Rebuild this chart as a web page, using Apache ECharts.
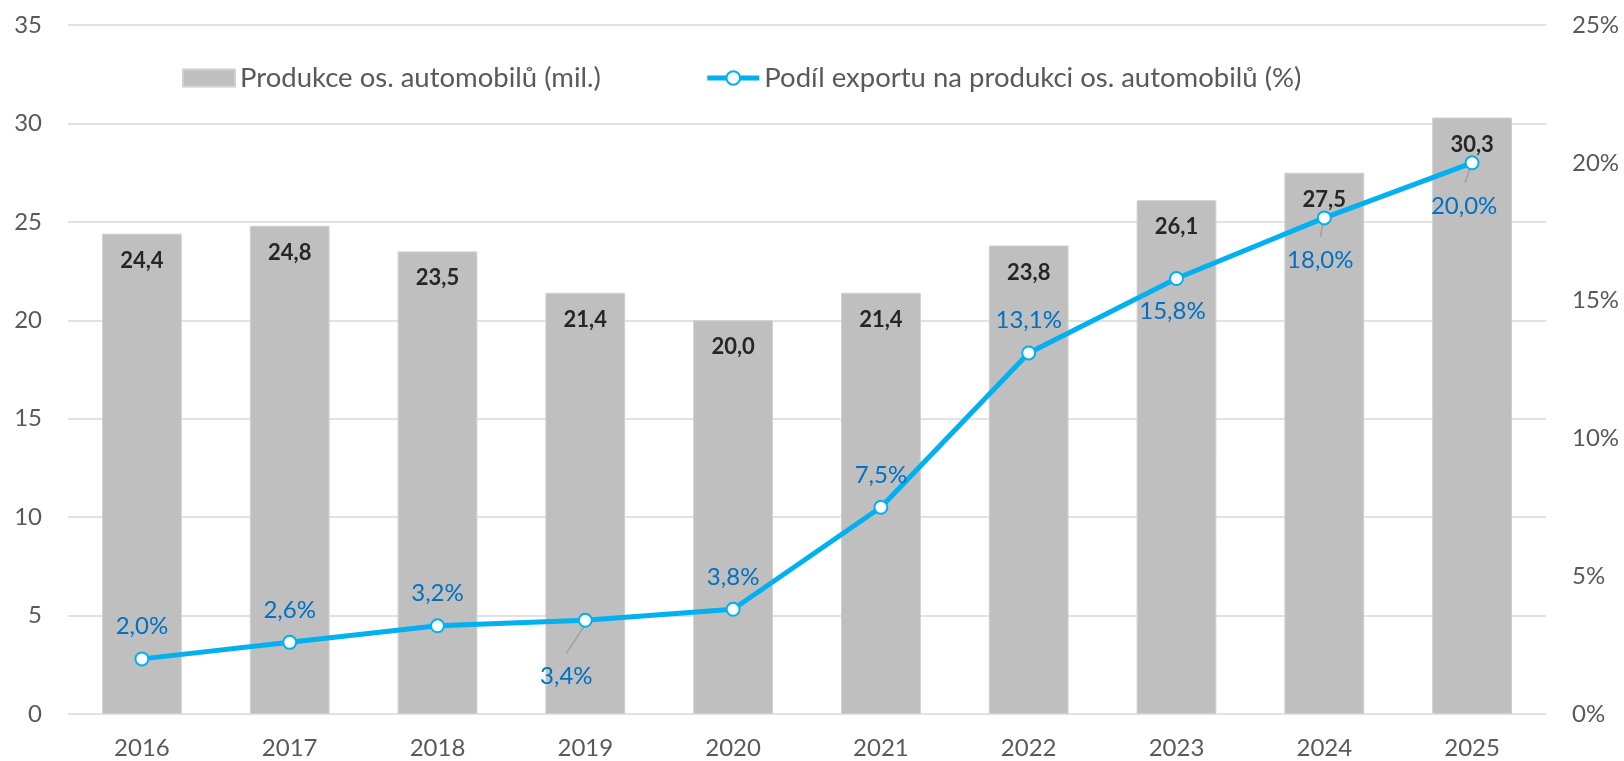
<!DOCTYPE html>
<html>
<head>
<meta charset="utf-8">
<script src="https://cdn.jsdelivr.net/npm/echarts@6/dist/echarts.min.js"></script>
<style>
html,body{margin:0;padding:0;background:#fff;}
#c{width:1624px;height:761px;}
</style>
</head>
<body>
<div id="c"></div>
<script>
const categories = ['2016','2017','2018','2019','2020','2021','2022','2023','2024','2025'];
const production = [24.4, 24.8, 23.5, 21.4, 20.0, 21.4, 23.8, 26.1, 27.5, 30.3];
const exportShare = [2.0, 2.6, 3.2, 3.4, 3.8, 7.5, 13.1, 15.8, 18.0, 20.0];
const seriesNames = ['Produkce os. automobilů (mil.)', 'Podíl exportu na produkci os. automobilů (%)'];
const leftTicks = [0, 35, 5];
const rightTicks = [0, 25, 5];
// label placement for the share series: 'top' or 'bottom', label shifts and leader lines (pixels, styling only)
const shareLabelPos = ['top','top','top','bottom','top','top','top','bottom','bottom','bottom'];
const shareLabelShift = [[0,0],[0,0],[0,0],[-19,28],[0,0],[0,0],[0,0],[-4,5],[-4,15],[-8,16]];
const shareLeader = [null,null,null,[0,4,-19,33],null,null,null,null,[-1,4,-4,19],[-2,5,-7,20]];

const FONT = 'Lato';
const fmt = v => v.toFixed(1).replace('.', ',');

const lineData = exportShare.map((v, i) => {
  const item = { value: v };
  if (shareLabelPos[i] === 'bottom') {
    item.label = { position: 'bottom', distance: 8 };
  }
  return item;
});
const leaderData = exportShare
  .map((v, i) => [i, v])
  .filter(d => shareLeader[d[0]]);

const chart = echarts.init(document.getElementById('c'));
chart.setOption({
  animation: false,
  textStyle: { fontFamily: FONT },
  grid: { left: 68, right: 78, top: 25, bottom: 47 },
  legend: {
    left: 177, top: 59,
    itemGap: 104,
    itemWidth: 52, itemHeight: 17,
    textStyle: { fontFamily: FONT, fontSize: 27.5, color: '#595959' },
    data: [
      { name: seriesNames[0], icon: 'rect' },
      { name: seriesNames[1], lineStyle: { width: 5 } }
    ]
  },
  xAxis: {
    type: 'category',
    data: categories,
    axisLine: { show: false },
    axisTick: { show: false },
    axisLabel: { fontFamily: FONT, fontSize: 24, color: '#595959', margin: 22 }
  },
  yAxis: [
    {
      type: 'value', min: leftTicks[0], max: leftTicks[1], interval: leftTicks[2],
      axisLine: { show: false }, axisTick: { show: false },
      splitLine: { lineStyle: { color: '#d9d9d9', width: 1.5 } },
      axisLabel: { fontFamily: FONT, fontSize: 24, color: '#595959', margin: 26 }
    },
    {
      type: 'value', min: rightTicks[0], max: rightTicks[1], interval: rightTicks[2],
      axisLine: { show: false }, axisTick: { show: false },
      splitLine: { show: false },
      axisLabel: { fontFamily: FONT, fontSize: 24, color: '#595959', margin: 26, formatter: v => v + '%' }
    }
  ],
  series: [
    {
      name: seriesNames[0],
      type: 'bar',
      yAxisIndex: 0,
      data: production,
      barWidth: '54%',
      itemStyle: { color: '#bfbfbf', borderColor: '#d0d0d0', borderWidth: 1 },
      label: {
        show: true, position: 'insideTop', distance: 16,
        fontFamily: FONT, fontSize: 22, fontWeight: 'bold', color: '#262626',
        formatter: p => fmt(p.value)
      },
      z: 1
    },
    {
      name: 'leader',
      type: 'custom',
      yAxisIndex: 1,
      data: leaderData,
      silent: true,
      z: 2,
      renderItem: (params, api) => {
        const idx = api.value(0);
        const p = api.coord([idx, api.value(1)]);
        const s = shareLeader[idx];
        return {
          type: 'line',
          shape: { x1: p[0] + s[0], y1: p[1] + s[1], x2: p[0] + s[2], y2: p[1] + s[3] },
          style: { stroke: '#a0a0a0', lineWidth: 1.5 }
        };
      }
    },
    {
      name: seriesNames[1],
      type: 'line',
      yAxisIndex: 1,
      data: lineData,
      symbol: 'circle',
      symbolSize: 13,
      showAllSymbol: true,
      lineStyle: { color: '#00b0f0', width: 5 },
      itemStyle: { color: '#ffffff', borderColor: '#00b0f0', borderWidth: 2 },
      label: {
        show: true, position: 'top', distance: 13,
        fontFamily: FONT, fontSize: 24, color: '#0070c0',
        formatter: p => fmt(p.value) + '%'
      },
      labelLayout: p => {
        const s = shareLabelShift[p.dataIndex];
        return { dx: s[0], dy: s[1] };
      },
      z: 3
    }
  ]
});
</script>
</body>
</html>
